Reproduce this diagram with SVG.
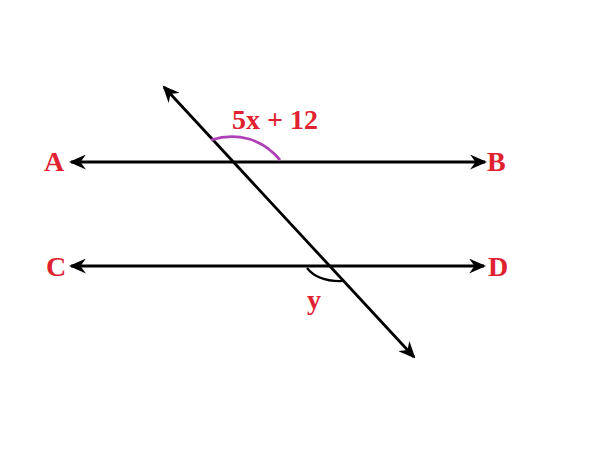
<svg xmlns="http://www.w3.org/2000/svg" width="600" height="450" viewBox="0 0 600 450">
<style>
.ln{stroke:#000;stroke-width:2.8;fill:none}
.lbl{font-family:"Liberation Serif",serif;font-weight:bold;fill:#e02230}
</style>
<defs>
<marker id="ah" viewBox="0 0 16 14" refX="14" refY="7" markerWidth="17" markerHeight="15" markerUnits="userSpaceOnUse" orient="auto-start-reverse">
<path d="M0,0 L16,7 L0,14 L5,7 z" fill="#000"/>
</marker>
</defs>
<rect width="600" height="450" fill="#fff"/>
<g id="connectors">
<line class="ln" x1="71" y1="162" x2="485" y2="162" marker-start="url(#ah)" marker-end="url(#ah)"/>
<line class="ln" x1="71" y1="266" x2="484" y2="266" marker-start="url(#ah)" marker-end="url(#ah)"/>
<line class="ln" x1="164" y1="87" x2="414" y2="357" marker-start="url(#ah)" marker-end="url(#ah)"/>
</g>
<g id="angle-top">
<path d="M211,140 C236,132 262,138 280,160" stroke="#b040b8" stroke-width="2.8" fill="none"/>
<text class="lbl" x="232" y="129" font-size="28">5x + 12</text>
</g>
<g id="angle-bottom">
<path d="M307,268 Q318,282 343,281" stroke="#000" stroke-width="2.2" fill="none"/>
<text class="lbl" x="307" y="309" font-size="28">y</text>
</g>
<g id="A"><text class="lbl" x="44" y="171" font-size="28">A</text></g>
<g id="B"><text class="lbl" x="487" y="171" font-size="28">B</text></g>
<g id="C"><text class="lbl" x="46" y="276" font-size="28">C</text></g>
<g id="D"><text class="lbl" x="488" y="276" font-size="28">D</text></g>
</svg>
